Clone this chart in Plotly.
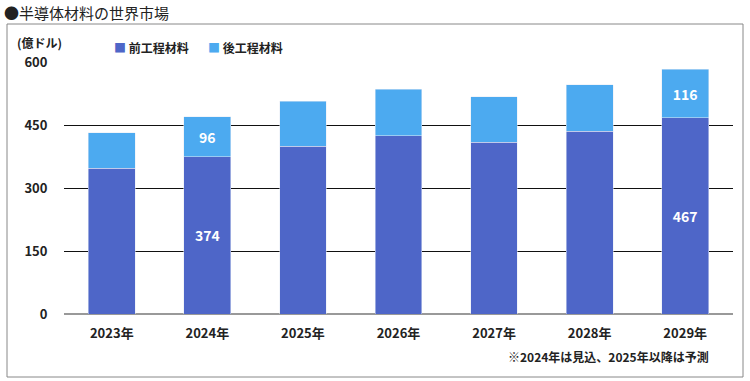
import plotly.graph_objects as go

years = ["2023年", "2024年", "2025年", "2026年", "2027年", "2028年", "2029年"]
front_vals = [347, 374, 400, 424, 409, 435, 467]
back_vals = [84, 96, 107, 111, 108, 111, 116]
front_labels = ["", "374", "", "", "", "", "467"]
back_labels = ["", "96", "", "", "", "", "116"]
yticks = [0, 150, 300, 450, 600]
series_names = ["前工程材料", "後工程材料"]
series_colors = ["#4E66C8", "#4CAAF0"]

FONT = "Noto Sans CJK JP"
W, H = 750, 381
L, R, T, B = 64, 17, 62, 67
PW, PH = W - L - R, H - T - B

def px(x):
    return (x - L) / PW

def py(y):
    return (H - B - y) / PH

fig = go.Figure()
for vals, labels, name, color in [(front_vals, front_labels, series_names[0], series_colors[0]),
                                   (back_vals, back_labels, series_names[1], series_colors[1])]:
    fig.add_trace(go.Bar(
        x=years, y=vals, name=name, marker_color=color,
        text=labels, textposition="inside", insidetextanchor="middle",
        textfont=dict(color="white", size=14, family=FONT, weight="bold"),
        hoverinfo="skip",
    ))

fig.update_layout(
    barmode="stack",
    bargap=0.51,
    width=W, height=H,
    margin=dict(l=L, r=R, t=T, b=B, autoexpand=False),
    paper_bgcolor="white", plot_bgcolor="white",
    font=dict(family=FONT, color="#222"),
    showlegend=False,
    xaxis=dict(showgrid=False, ticks="outside", ticklen=7, tickcolor="rgba(0,0,0,0)",
               showline=False, automargin=False,
               tickfont=dict(size=13, family=FONT, weight="bold", color="#222")),
    yaxis=dict(range=[0, 600], tickvals=yticks, showgrid=True, gridcolor="#111", gridwidth=1,
               zeroline=True, zerolinecolor="#999", zerolinewidth=2,
               ticks="outside", ticklen=13, tickcolor="rgba(0,0,0,0)", automargin=False,
               tickfont=dict(size=13, family=FONT, weight="bold", color="#222")),
    uniformtext=dict(mode=False),
)

fig.add_shape(type="rect", xref="paper", yref="paper",
              x0=px(7), x1=px(743), y0=py(377), y1=py(24),
              line=dict(color="#888", width=1), layer="below")

fig.add_annotation(text="●半導体材料の世界市場", xref="paper", yref="paper",
                   x=px(2), y=py(12), xanchor="left", yanchor="middle",
                   showarrow=False, font=dict(size=15, family=FONT, color="#222"))
fig.add_annotation(text="(億ドル)", xref="paper", yref="paper",
                   x=px(15), y=py(42), xanchor="left", yanchor="middle",
                   showarrow=False, font=dict(size=12, family=FONT, weight="bold", color="#222"))
for name, color, xpos in zip(series_names, series_colors, [112, 206]):
    fig.add_annotation(text=f"<span style='color:{color}'>■</span> {name}",
                       xref="paper", yref="paper", x=px(xpos), y=py(48),
                       xanchor="left", yanchor="middle", showarrow=False,
                       font=dict(size=12, family=FONT, weight="bold", color="#222"))
fig.add_annotation(text="※2024年は見込、2025年以降は予測", xref="paper", yref="paper",
                   x=px(711), y=py(356), xanchor="right", yanchor="middle",
                   showarrow=False, font=dict(size=12, family=FONT, weight="bold", color="#222"))

fig.write_html("out.html", config={"displayModeBar": False},
               post_script="document.body.style.margin='0';document.body.style.overflow='hidden';")
